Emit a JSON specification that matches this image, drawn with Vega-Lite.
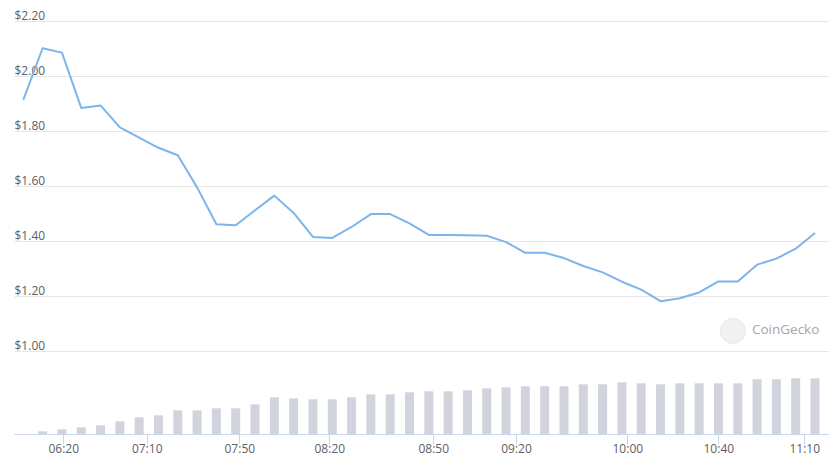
{
  "$schema": "https://vega.github.io/schema/vega-lite/v6.json",
  "autosize": {"type": "none"},
  "padding": {"left": 14, "top": 21, "right": 0, "bottom": 31},
  "width": 815,
  "height": 413,
  "background": "#ffffff",
  "config": {
    "view": {"stroke": null},
    "font": "Open Sans",
    "axis": {"labelFont": "Open Sans", "labelColor": "#606060", "labelFontSize": 12}
  },
  "datasets": {
    "series": [
      {"i": 0, "price": 1.913, "volume": null},
      {"i": 1, "price": 2.101, "volume": 27},
      {"i": 2, "price": 2.085, "volume": 47},
      {"i": 3, "price": 1.884, "volume": 67},
      {"i": 4, "price": 1.893, "volume": 87},
      {"i": 5, "price": 1.813, "volume": 127},
      {"i": 6, "price": 1.776, "volume": 167},
      {"i": 7, "price": 1.739, "volume": 187},
      {"i": 8, "price": 1.712, "volume": 237},
      {"i": 9, "price": 1.595, "volume": 237},
      {"i": 10, "price": 1.461, "volume": 257},
      {"i": 11, "price": 1.457, "volume": 257},
      {"i": 12, "price": 1.512, "volume": 297},
      {"i": 13, "price": 1.565, "volume": 367},
      {"i": 14, "price": 1.502, "volume": 357},
      {"i": 15, "price": 1.415, "volume": 347},
      {"i": 16, "price": 1.411, "volume": 347},
      {"i": 17, "price": 1.451, "volume": 367},
      {"i": 18, "price": 1.498, "volume": 397},
      {"i": 19, "price": 1.498, "volume": 397},
      {"i": 20, "price": 1.464, "volume": 417},
      {"i": 21, "price": 1.422, "volume": 427},
      {"i": 22, "price": 1.422, "volume": 427},
      {"i": 23, "price": 1.421, "volume": 437},
      {"i": 24, "price": 1.419, "volume": 457},
      {"i": 25, "price": 1.396, "volume": 467},
      {"i": 26, "price": 1.357, "volume": 477},
      {"i": 27, "price": 1.357, "volume": 477},
      {"i": 28, "price": 1.338, "volume": 477},
      {"i": 29, "price": 1.309, "volume": 497},
      {"i": 30, "price": 1.286, "volume": 497},
      {"i": 31, "price": 1.252, "volume": 517},
      {"i": 32, "price": 1.223, "volume": 507},
      {"i": 33, "price": 1.181, "volume": 497},
      {"i": 34, "price": 1.192, "volume": 507},
      {"i": 35, "price": 1.213, "volume": 507},
      {"i": 36, "price": 1.253, "volume": 507},
      {"i": 37, "price": 1.253, "volume": 507},
      {"i": 38, "price": 1.314, "volume": 547},
      {"i": 39, "price": 1.336, "volume": 547},
      {"i": 40, "price": 1.372, "volume": 557},
      {"i": 41, "price": 1.429, "volume": 557}
    ],
    "mark": [
      {"i": 36.75, "price": 1.073, "label": "CoinGecko"}
    ]
  },
  "resolve": {"scale": {"y": "independent"}},
  "layer": [
    {
      "data": {"name": "series"},
      "mark": {"type": "bar", "color": "#d1d4dc", "size": 9},
      "encoding": {
        "x": {"field": "i", "type": "quantitative", "scale": {"domain": [-0.4816, 41.7244], "nice": false, "zero": false, "padding": 0},
          "axis": {
            "values": [2.071, 6.39, 11.186, 15.847, 21.232, 25.515, 31.279, 35.992, 40.445],
            "labelExpr": "datum.value < 4 ? '06:20' : datum.value < 9 ? '07:10' : datum.value < 13 ? '07:50' : datum.value < 18 ? '08:20' : datum.value < 23 ? '08:50' : datum.value < 28 ? '09:20' : datum.value < 33 ? '10:00' : datum.value < 38 ? '10:40' : '11:10'",
            "title": null, "grid": false, "domainColor": "#ccd6eb", "tickColor": "#ccd6eb", "tickSize": 10,
            "labelPadding": -1, "labelFlush": false, "labelOverlap": false, "labelFontSize": 12
          }},
        "y": {"field": "volume", "type": "quantitative", "scale": {"domain": [0, 4130], "nice": false}, "axis": null}
      }
    },
    {
      "data": {"name": "series"},
      "mark": {"type": "line", "color": "#7cb5ec", "strokeWidth": 2, "strokeJoin": "round"},
      "encoding": {
        "x": {"field": "i", "type": "quantitative"},
        "y": {"field": "price", "type": "quantitative", "scale": {"domain": [0.6982, 2.2], "nice": false, "zero": false},
          "axis": {
            "values": [1.0, 1.2, 1.4, 1.6, 1.8, 2.0, 2.2], "format": "$.2f", "title": null,
            "grid": true, "gridColor": "#e6e6e6", "domain": false, "ticks": false, "tickSize": 0,
            "labelAlign": "left", "labelBaseline": "alphabetic", "labelPadding": 0, "labelOffset": -2,
            "labelFlush": false, "labelOverlap": false, "labelBound": false
          }}
      }
    },
    {
      "data": {"name": "mark"},
      "mark": {"type": "point", "shape": "circle", "filled": true, "size": 620, "color": "#ececec", "stroke": "#dddddd", "strokeWidth": 1},
      "encoding": {
        "x": {"field": "i", "type": "quantitative"},
        "y": {"field": "price", "type": "quantitative", "scale": {"domain": [0.6982, 2.2], "nice": false, "zero": false}, "axis": null}
      }
    },
    {
      "data": {"name": "mark"},
      "mark": {"type": "text", "align": "left", "baseline": "middle", "dx": 19, "dy": -1, "fontSize": 13.5, "color": "#a6a6a6", "font": "Open Sans"},
      "encoding": {
        "x": {"field": "i", "type": "quantitative"},
        "y": {"field": "price", "type": "quantitative", "scale": {"domain": [0.6982, 2.2], "nice": false, "zero": false}, "axis": null},
        "text": {"field": "label"}
      }
    }
  ]
}
